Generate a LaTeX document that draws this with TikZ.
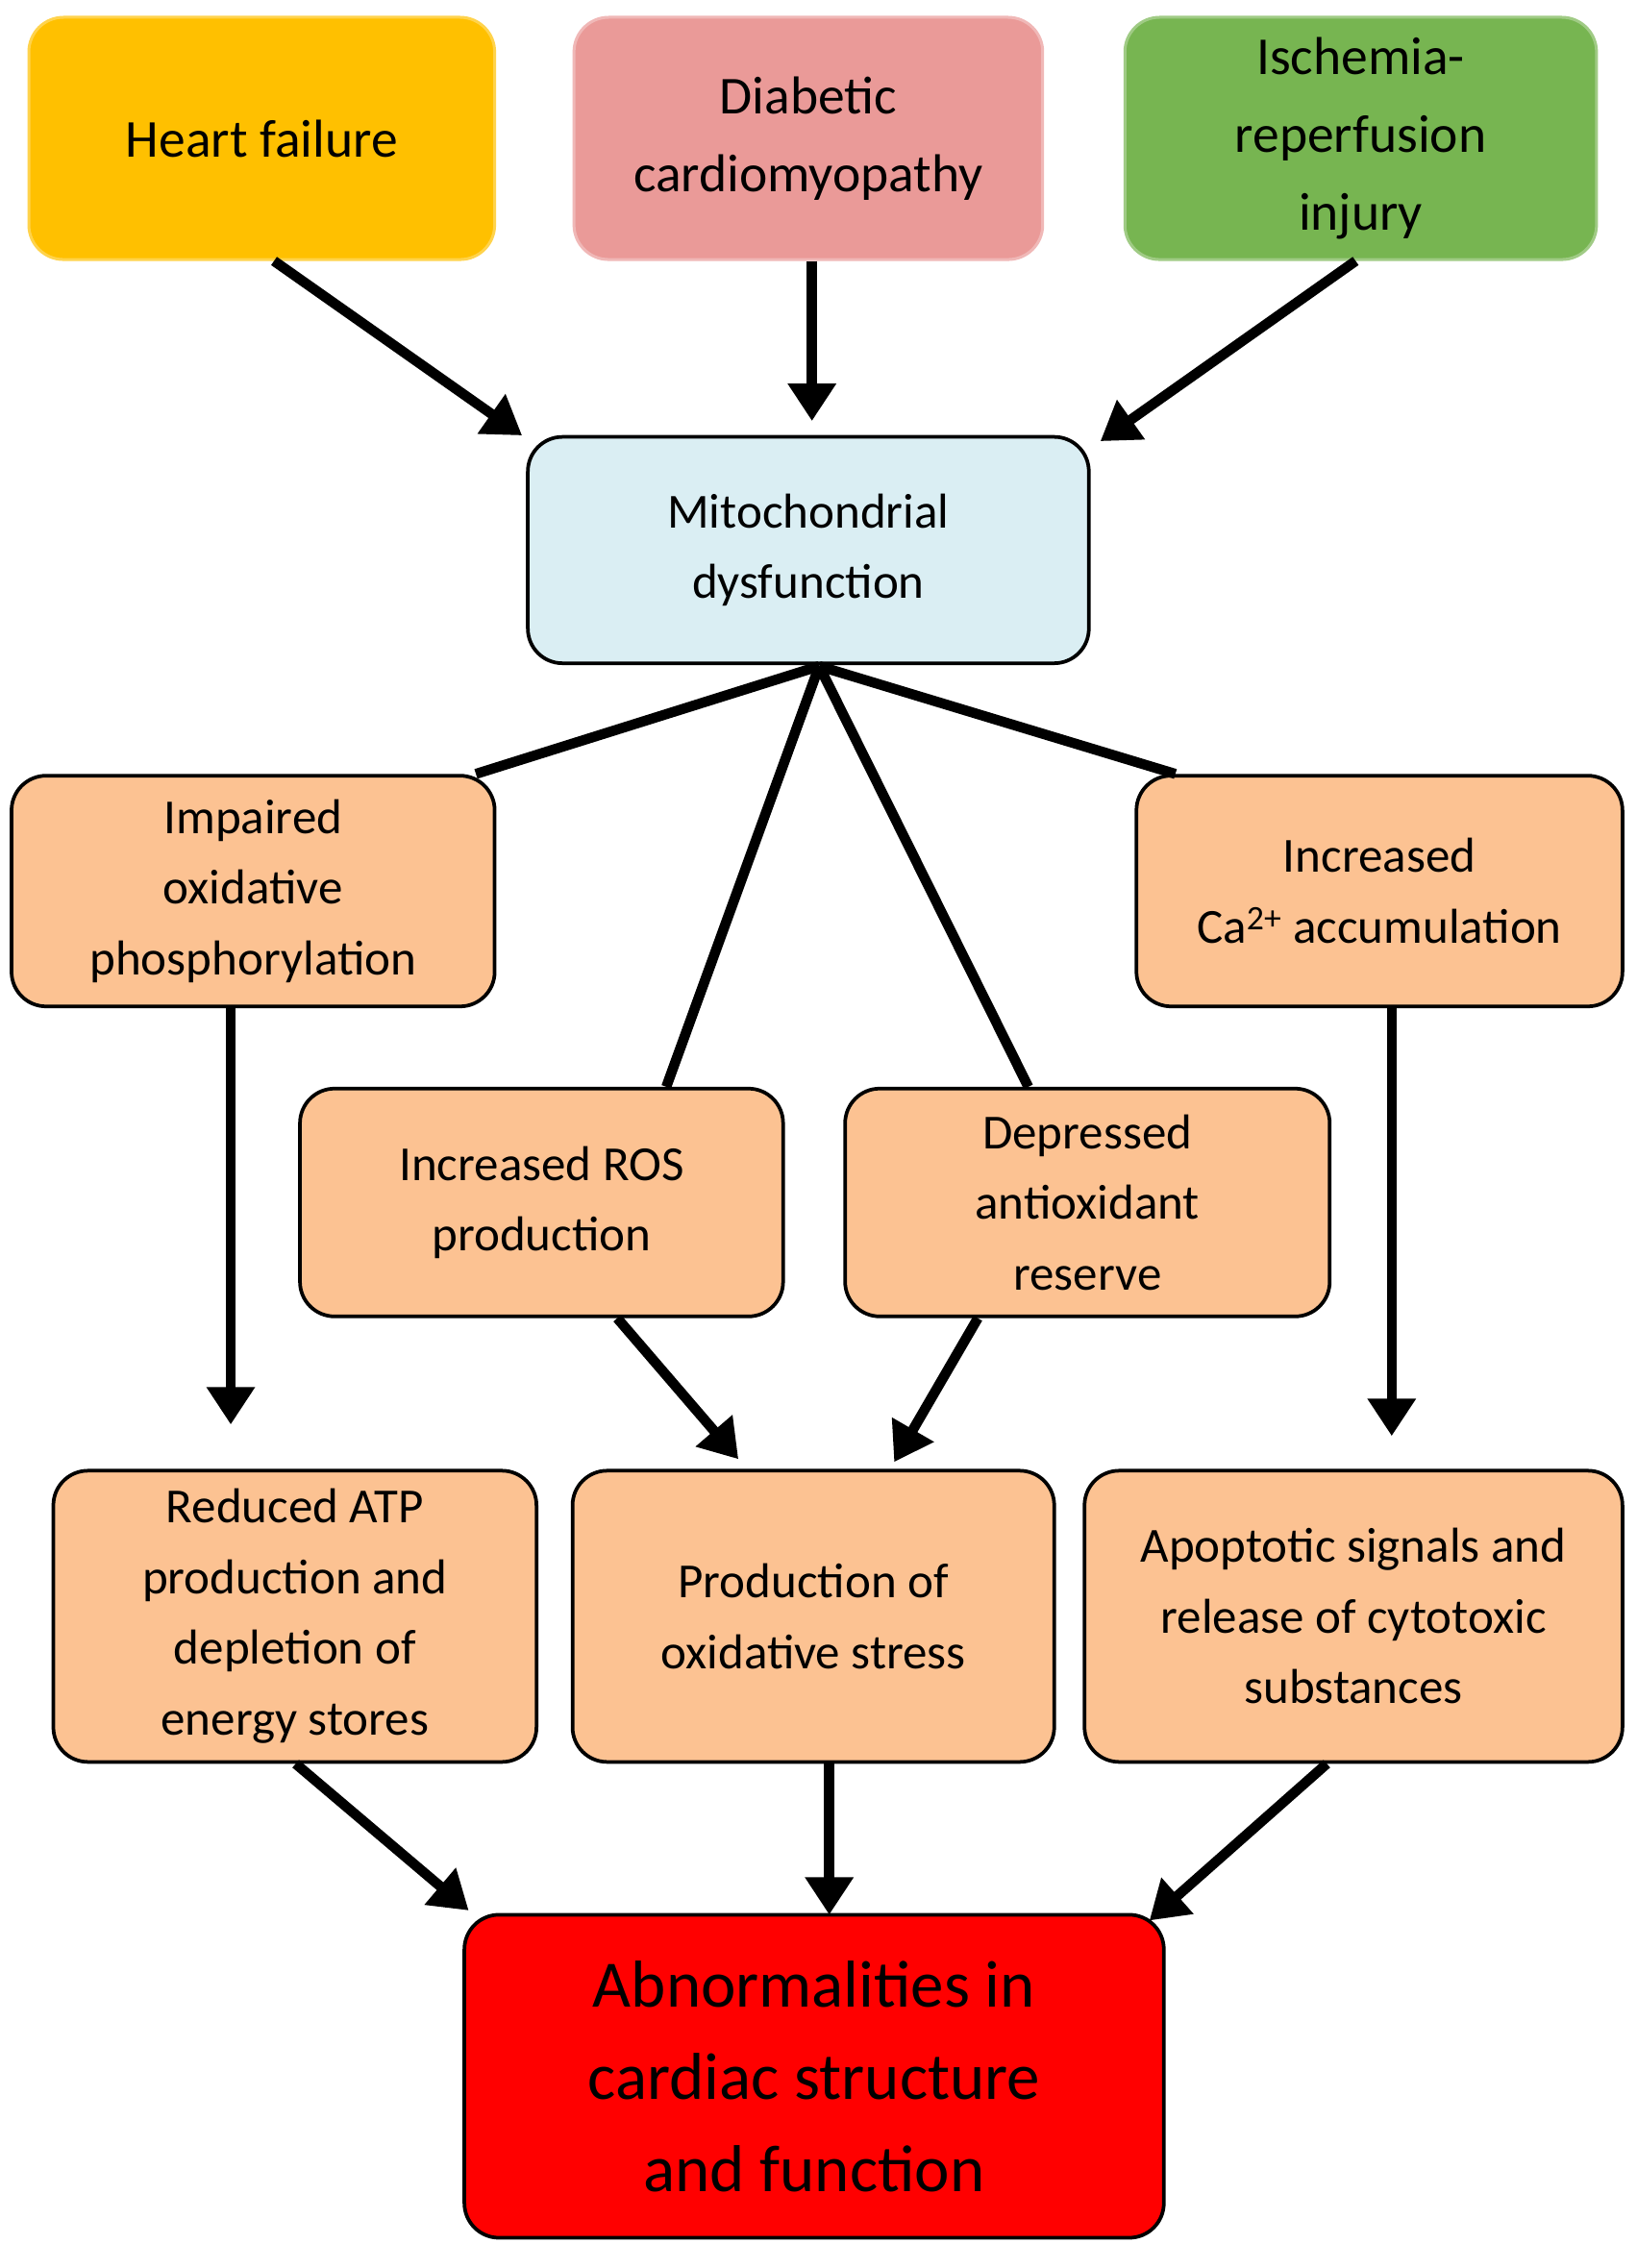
\documentclass[tikz,border=0pt]{standalone}
\usepackage{fontspec}
\setmainfont{Carlito}
\usetikzlibrary{arrows.meta}
\definecolor{gold}{HTML}{FFC000}
\definecolor{pinkb}{HTML}{EA9A98}
\definecolor{greenb}{HTML}{77B551}
\definecolor{blueb}{HTML}{DAEEF3}
\definecolor{peach}{HTML}{FCC292}
\begin{document}
\begin{tikzpicture}[x=1pt,y=-1pt,
 box/.style={draw=black,line width=2.5pt,rounded corners=24pt,align=center,font=\fontsize{34}{49}\selectfont,inner sep=0pt},
 top/.style={box,draw=#1!70!white,line width=2pt,fill=#1,font=\fontsize{37}{54}\selectfont},
 pe/.style={box,fill=peach},
 arr/.style={line width=7pt,-{Triangle[length=26pt,width=32pt]}},
 ln/.style={line width=7pt}]
\useasboundingbox (0,0) rectangle (1135,1573);
\fill[white] (0,0) rectangle (1135,1573);
\node[top=gold,minimum width=323pt,minimum height=168pt] (hf) at (181.5,96) {Heart failure};
\node[top=pinkb,minimum width=325pt,minimum height=168pt] (dc) at (560.5,96) {Diabetic\\cardiomyopathy};
\node[top=greenb,minimum width=327pt,minimum height=168pt] (ir) at (943.5,96) {Ischemia-\\reperfusion\\injury};
\node[box,fill=blueb,minimum width=389pt,minimum height=157pt] (mi) at (560.5,381.5) {Mitochondrial\\dysfunction};
\node[pe,minimum width=335pt,minimum height=160pt] (io) at (175.5,618) {Impaired\\oxidative\\phosphorylation};
\node[pe,minimum width=337pt,minimum height=160pt] (ca) at (956.5,618) {Increased\\Ca\textsuperscript{2+} accumulation};
\node[pe,minimum width=335pt,minimum height=158pt] (ros) at (375.5,834) {Increased ROS\\production};
\node[pe,minimum width=336pt,minimum height=158pt] (da) at (754,834) {Depressed\\antioxidant\\reserve};
\node[pe,minimum width=335pt,minimum height=202pt] (atp) at (204.5,1121) {Reduced ATP\\production and\\depletion of\\energy stores};
\node[pe,minimum width=334pt,minimum height=202pt] (po) at (564,1121) {Production of\\oxidative stress};
\node[pe,minimum width=373pt,minimum height=202pt] (ap) at (938.5,1121) {Apoptotic signals and\\release of cytotoxic\\substances};
\node[box,fill=red,minimum width=485pt,minimum height=224pt,font=\fontsize{46}{64}\selectfont] (ab) at (564.5,1440) {Abnormalities in\\cardiac structure\\and function};
% connector endpoints
\coordinate (mb) at (568,462);
\coordinate (t1) at (362,302); \coordinate (t2) at (563,292); \coordinate (t3) at (763,306);
\coordinate (a1) at (160,988); \coordinate (a2) at (965,996);
\coordinate (a3) at (512,1012); \coordinate (a4) at (620,1014);
\coordinate (a5) at (325,1325); \coordinate (a6) at (575,1328); \coordinate (a7) at (797,1332);
\draw[arr] (hf.south -| 190,0) ++(0,0) -- (t1);
\draw[arr] (dc.south -| 563,0) -- (t2);
\draw[arr] (ir.south -| 940,0) -- (t3);
\draw[ln] (mb) -- (io.north -| 330,0);
\draw[ln] (mb) -- (ros.north -| 462,0);
\draw[ln] (mb) -- (da.north -| 713,0);
\draw[ln] (mb) -- (ca.north -| 815,0);
\draw[arr] (io.south -| 160,0) -- (a1);
\draw[arr] (ca.south -| 965,0) -- (a2);
\draw[arr] (ros.south -| 428,0) -- (a3);
\draw[arr] (da.south -| 678,0) -- (a4);
\draw[arr] (atp.south -| 205,0) -- (a5);
\draw[arr] (po.south -| 575,0) -- (a6);
\draw[arr] (ap.south -| 920,0) -- (a7);
\end{tikzpicture}
\end{document}
